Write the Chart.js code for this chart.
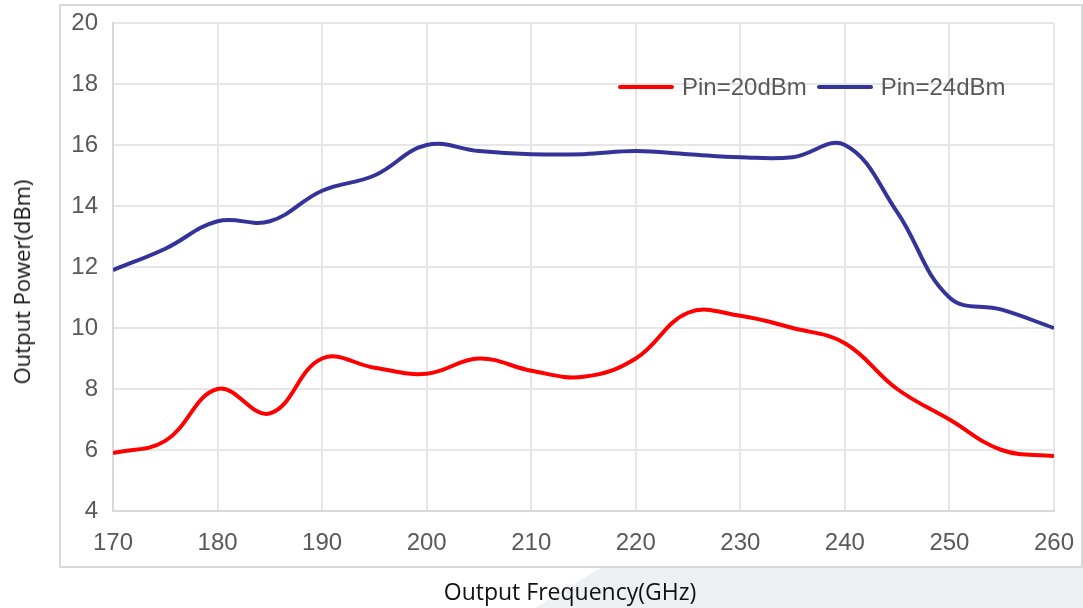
<!DOCTYPE html>
<html>
<head>
<meta charset="utf-8">
<script src="https://cdn.jsdelivr.net/npm/chart.js@4.4.0/dist/chart.umd.min.js"></script>
<style>
  html, body { margin: 0; padding: 0; background: #fff; }
  #wrap { position: relative; width: 1083px; height: 608px; overflow: hidden; }
  #shade { position: absolute; left: 0; top: 0; width: 1083px; height: 608px; background: #eff0f4;
           clip-path: polygon(602px 567px, 1083px 567px, 1083px 608px, 535px 608px); }
  #frame { position: absolute; left: 59px; top: 4px; width: 1020px; height: 560px; border: 2px solid #d9d9d9; }
  canvas { position: absolute; left: 0; top: 0; }
  .title { position: absolute; font-family: "Open Sans", sans-serif; color: #111; white-space: nowrap; }
  #xTitle { left: 570px; top: 591px; font-size: 23px; transform: translate(-50%, -50%); }
  #yTitle { left: 21px; top: 282px; font-size: 22px; transform: translate(-50%, -50%) rotate(-90deg); }
  #legend { position: absolute; left: 618px; top: 73px; display: flex; align-items: center;
            font-family: "Liberation Sans", Arial, sans-serif; font-size: 24px; color: #595959; }
  .item { display: flex; align-items: center; margin-right: 10px; }
  .swatch { width: 56px; height: 4px; border-radius: 2px; margin-right: 8px; }
</style>
</head>
<body>
<div id="wrap">
  <div id="shade"></div>
  <div id="frame"></div>
  <canvas id="chart" width="1083" height="608"></canvas>
  <div id="legend"></div>
  <div class="title" id="xTitle">Output Frequency(GHz)</div>
  <div class="title" id="yTitle">Output Power(dBm)</div>
</div>
<script>
const freqs = [170, 175, 180, 185, 190, 195, 200, 205, 210, 215, 220, 225, 230, 235, 240, 245, 250, 255, 260];
const pin20 = [5.9, 6.3, 8.0, 7.2, 9.0, 8.7, 8.5, 9.0, 8.6, 8.4, 9.0, 10.5, 10.4, 10.0, 9.5, 8.0, 7.0, 6.0, 5.8];
const pin24 = [11.9, 12.6, 13.5, 13.5, 14.5, 15.0, 16.0, 15.8, 15.7, 15.7, 15.8, 15.7, 15.6, 15.6, 16.0, 13.8, 11.0, 10.6, 10.0];
const seriesNames = ['Pin=20dBm', 'Pin=24dBm'];
const seriesColors = ['#ff0000', '#333399'];

const toPoints = vals => vals.map((v, i) => ({ x: freqs[i], y: v }));

const datasets = [pin20, pin24].map((vals, i) => ({
  label: seriesNames[i],
  data: toPoints(vals),
  borderColor: seriesColors[i],
  backgroundColor: seriesColors[i],
  borderWidth: 4,
  pointRadius: 0,
  tension: 0.4,
  fill: false
}));

// legend in html
const legend = document.getElementById('legend');
seriesNames.forEach((name, i) => {
  const item = document.createElement('div');
  item.className = 'item';
  item.innerHTML = '<span class="swatch" style="background:' + seriesColors[i] + '"></span><span>' + name + '</span>';
  legend.appendChild(item);
});

const tickFont = { family: '"Liberation Sans", Arial, sans-serif', size: 24 };

new Chart(document.getElementById('chart').getContext('2d'), {
  type: 'line',
  data: { datasets },
  options: {
    responsive: false,
    animation: false,
    layout: { padding: { top: 23, right: 29, left: 0, bottom: 0 } },
    plugins: { legend: { display: false }, tooltip: { enabled: false } },
    scales: {
      x: {
        type: 'linear',
        min: 170,
        max: 260,
        ticks: { stepSize: 10, color: '#595959', font: tickFont, padding: 18, maxRotation: 0 },
        grid: { color: '#e6e6e6', lineWidth: 2, drawTicks: false },
        border: { color: '#d9d9d9', width: 2 },
        afterFit: scale => {
          scale.height = 97;
          scale.paddingLeft = 0;
          scale.paddingRight = 0;
        }
      },
      y: {
        min: 4,
        max: 20,
        ticks: { stepSize: 2, color: '#595959', font: tickFont, padding: 15 },
        grid: { color: '#e6e6e6', lineWidth: 2, drawTicks: false },
        border: { color: '#d9d9d9', width: 2 },
        afterFit: scale => {
          scale.width = 113;
          scale.paddingTop = 0;
          scale.paddingBottom = 0;
        }
      }
    }
  }
});
</script>
</body>
</html>
